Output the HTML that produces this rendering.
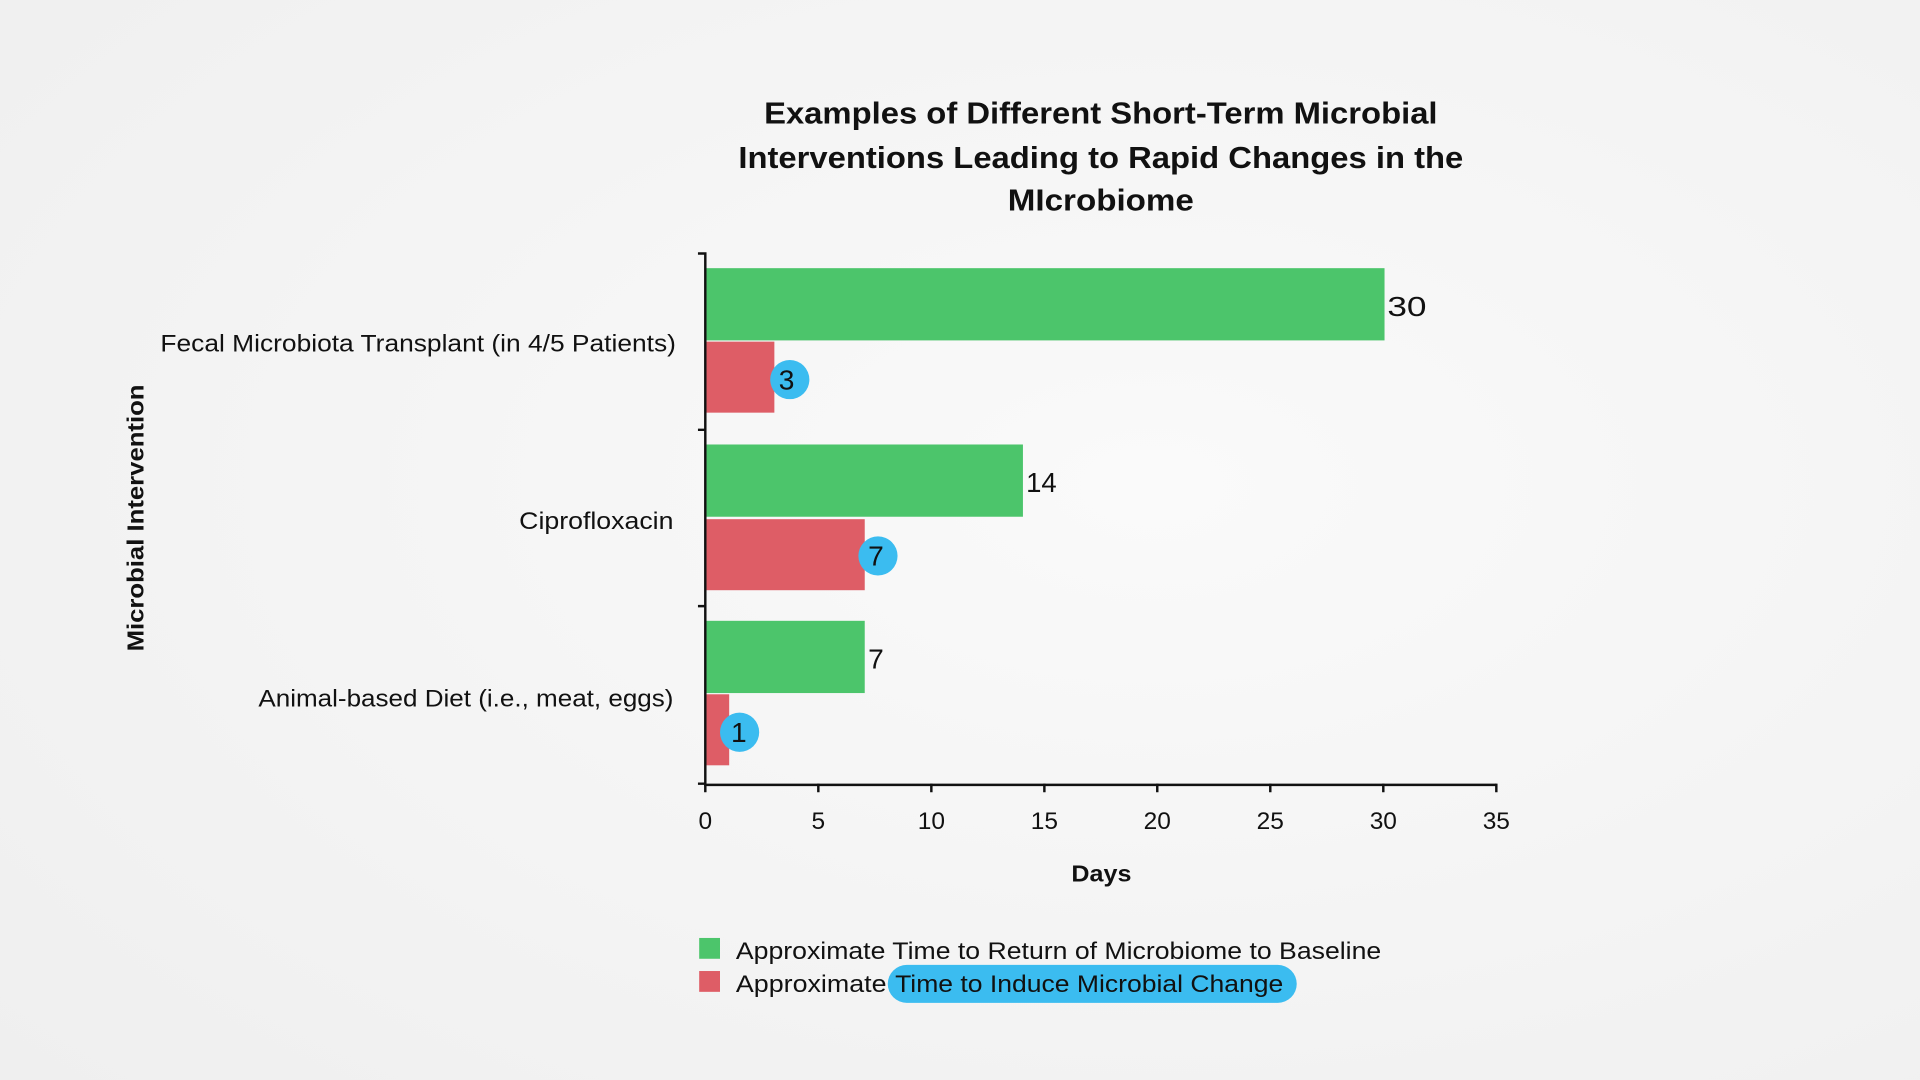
<!DOCTYPE html>
<html><head><style>
html,body{margin:0;padding:0;width:1920px;height:1080px;overflow:hidden;background:#f6f6f6}
svg{display:block}
text{font-family:"Liberation Sans",sans-serif;fill:#111}
</style></head><body>
<svg width="1920" height="1080" viewBox="0 0 1568 882">
<defs><radialGradient id="bg" cx="0.6" cy="0.45" r="0.8"><stop offset="0" stop-color="#fafafa"/><stop offset="1" stop-color="#efefef"/></radialGradient></defs>
<rect width="1568" height="882" fill="url(#bg)"/>
<g font-weight="bold" font-size="25" lengthAdjust="spacingAndGlyphs">
<text x="624" y="101" textLength="550" lengthAdjust="spacingAndGlyphs">Examples of Different Short-Term Microbial</text>
<text x="603" y="137" textLength="592" lengthAdjust="spacingAndGlyphs">Interventions Leading to Rapid Changes in the</text>
<text x="823" y="172" textLength="152" lengthAdjust="spacingAndGlyphs">MIcrobiome</text>
</g>
<g>
<rect x="577" y="219" width="553.7" height="59" fill="#4cc56b"/>
<rect x="577" y="279" width="55.4" height="58" fill="#de5d66"/>
<rect x="577" y="363" width="258.4" height="59" fill="#4cc56b"/>
<rect x="577" y="424" width="129.2" height="58" fill="#de5d66"/>
<rect x="577" y="507" width="129.2" height="59" fill="#4cc56b"/>
<rect x="577" y="567" width="18.5" height="58" fill="#de5d66"/>
</g>
<circle cx="645" cy="310" r="16" fill="#3bbcf0"/>
<circle cx="717" cy="454" r="16" fill="#3bbcf0"/>
<circle cx="604" cy="598" r="16" fill="#3bbcf0"/>
<g font-size="23">
<text x="1133" y="258" textLength="32" lengthAdjust="spacingAndGlyphs">30</text>
<text x="636" y="318">3</text>
<text x="838" y="402" textLength="25" lengthAdjust="spacingAndGlyphs">14</text>
<text x="709" y="462">7</text>
<text x="709" y="546">7</text>
<text x="597" y="606">1</text>
</g>
<g stroke="#111" stroke-width="2" fill="none">
<path d="M570 207H576V641H1222"/>
<path d="M570 351H576M570 495H576M570 640H576"/>
<path d="M576 640V647M668.3 640V647M760.6 640V647M852.9 640V647M945.1 640V647M1037.4 640V647M1129.7 640V647M1222 640V647"/>
</g>
<g font-size="20" text-anchor="middle">
<text x="576" y="677">0</text><text x="668.3" y="677">5</text><text x="760.6" y="677">10</text><text x="852.9" y="677">15</text>
<text x="945.1" y="677">20</text><text x="1037.4" y="677">25</text><text x="1129.7" y="677">30</text><text x="1222" y="677">35</text>
</g>
<text x="875" y="720" font-size="19" font-weight="bold" textLength="49" lengthAdjust="spacingAndGlyphs">Days</text>
<g font-size="20">
<text x="131" y="287" textLength="421" lengthAdjust="spacingAndGlyphs">Fecal Microbiota Transplant (in 4/5 Patients)</text>
<text x="424" y="432" textLength="126" lengthAdjust="spacingAndGlyphs">Ciprofloxacin</text>
<text x="211" y="577" textLength="339" lengthAdjust="spacingAndGlyphs">Animal-based Diet (i.e., meat, eggs)</text>
</g>
<text transform="translate(117 532) rotate(-90)" font-size="19" font-weight="bold" textLength="218" lengthAdjust="spacingAndGlyphs">Microbial Intervention</text>
<rect x="571" y="766" width="17" height="17" fill="#4cc56b"/>
<rect x="571" y="793" width="17" height="17" fill="#de5d66"/>
<rect x="725" y="788" width="334" height="31" rx="15.5" fill="#3bbcf0"/>
<g font-size="20">
<text x="601" y="783" textLength="527" lengthAdjust="spacingAndGlyphs">Approximate Time to Return of Microbiome to Baseline</text>
<text x="601" y="810" textLength="123" lengthAdjust="spacingAndGlyphs">Approximate</text>
<text x="731" y="810" textLength="317" lengthAdjust="spacingAndGlyphs">Time to Induce Microbial Change</text>
</g>
</svg>
</body></html>
